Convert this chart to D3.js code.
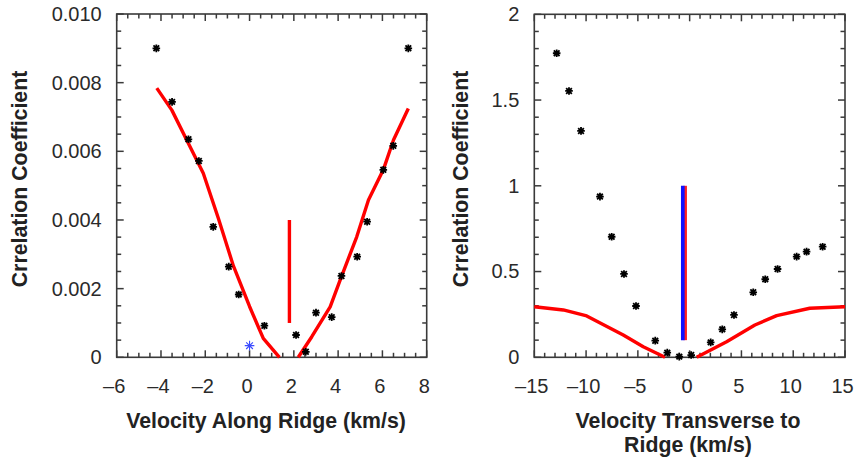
<!DOCTYPE html>
<html><head><meta charset="utf-8">
<script src="https://cdn.jsdelivr.net/npm/d3@7"></script>
<style>
body{margin:0;background:#fff}
text{font-family:"Liberation Sans",Arial,Helvetica,sans-serif}
</style>
</head><body>
<svg id="c" width="859" height="459" style="background:#fff"></svg>
<script>
// ---------- Left panel data ----------
const leftObsX = [-4.21,-3.50,-2.76,-2.29,-1.64,-0.94,-0.49,0.67,2.10,2.54,3.00,3.71,4.15,4.86,5.31,6.04,6.49,7.17];
const leftObsY = [0.0090,0.00744,0.00635,0.00572,0.0038,0.00264,0.00183,0.00092,0.00065,0.00016,0.0013,0.00117,0.00237,0.00293,0.00395,0.00546,0.00616,0.0090];
const leftFitNegX = [-4.19,-3.51,-2.76,-2.09,-1.41,-0.73,0.0,0.62,1.35];
const leftFitNegY = [0.00784,0.0072,0.00623,0.00536,0.00405,0.00266,0.00148,0.00055,0];
const leftFitPosX = [2.2,2.81,3.64,4.09,4.84,5.37,6.04,6.5,7.17];
const leftFitPosY = [0,0.0006,0.00147,0.00225,0.00351,0.00458,0.00546,0.00633,0.00725];
const leftMarkerX = [1.8, 1.8];
const leftMarkerY = [0.001, 0.004];
const leftBlueStarX = [0.0];
const leftBlueStarY = [0.00034];
const leftXTicks = [-6,-4,-2,0,2,4,6,8];
const leftYTicks = [0,0.002,0.004,0.006,0.008,0.010];
const leftYLabels = ["0","0.002","0.004","0.006","0.008","0.010"];

// ---------- Right panel data ----------
const rightObsX = [-12.84,-11.65,-10.49,-8.66,-7.53,-6.34,-5.18,-3.32,-2.16,-1.0,0.15,2.03,3.15,4.28,6.14,7.30,8.49,10.33,11.29,12.84];
const rightObsY = [1.773,1.553,1.320,0.937,0.703,0.486,0.299,0.097,0.027,0.004,0.013,0.087,0.163,0.247,0.379,0.455,0.515,0.587,0.616,0.645];
const rightFitNegX = [-15,-12.2,-9.94,-6.41,-4.48,-2.38];
const rightFitNegY = [0.295,0.276,0.241,0.130,0.062,0];
const rightFitPosX = [0.68,3.57,6.3,8.4,11.6,15];
const rightFitPosY = [0,0.091,0.188,0.243,0.286,0.295];
const rightRedBarX = [-0.43,-0.43];
const rightBlueBarX = [-0.66,-0.66];
const rightBarY = [0.1, 1.0];
const rightXTicks = [-15,-10,-5,0,5,10,15];
const rightYTicks = [0,0.5,1,1.5,2];
const rightYLabels = ["0","0.5","1","1.5","2"];

const svg = d3.select("#c");
const zip = (xs, ys) => xs.map((x,i)=>[x, ys[i]]);

function panel(o){
  const x = d3.scaleLinear().domain(o.xDom).range([o.x0, o.x1]);
  const y = d3.scaleLinear().domain(o.yDom).range([o.y1, o.y0]);
  const g = svg.append("g");
  const frameCol = "#3a3a3a";

  const minX = d3.range(o.xDom[0], o.xDom[1] + 1e-9, o.xMinor);
  const minY = d3.range(o.yDom[0], o.yDom[1] + 1e-12, o.yMinor);
  const isMajor = (v, arr) => arr.some(t => Math.abs(t - v) < 1e-9);

  // inward ticks on all four sides
  const tg = g.append("g").attr("stroke",frameCol).attr("stroke-width",1.5);
  minX.forEach(v=>{
    const L = isMajor(v,o.xTicks) ? 7 : 4.5, px = x(v);
    tg.append("line").attr("x1",px).attr("x2",px).attr("y1",o.y1).attr("y2",o.y1-L);
    tg.append("line").attr("x1",px).attr("x2",px).attr("y1",o.y0).attr("y2",o.y0+L);
  });
  minY.forEach(v=>{
    const L = isMajor(v,o.yTicks) ? 7 : 4.5, py = y(v);
    tg.append("line").attr("y1",py).attr("y2",py).attr("x1",o.x0).attr("x2",o.x0+L);
    tg.append("line").attr("y1",py).attr("y2",py).attr("x1",o.x1).attr("x2",o.x1-L);
  });

  // tick labels
  const bx = g.append("g").attr("transform",`translate(0,${o.y1})`)
    .call(d3.axisBottom(x).tickValues(o.xTicks).tickSize(0).tickPadding(22)
      .tickFormat(d=> d<0 ? "\u2013"+Math.abs(d) : String(d)));
  bx.select("path.domain").remove();
  bx.selectAll("text").attr("font-size",20).attr("fill","#2a2a2a").attr("dx",-3)
    .attr("dy","0.71em").attr("font-family","Liberation Sans, Arial, sans-serif");
  const ly = g.append("g").attr("transform",`translate(${o.x0},0)`)
    .call(d3.axisLeft(y).tickValues(o.yTicks).tickSize(0).tickPadding(15)
      .tickFormat((d,i)=>o.yLabels[i]));
  ly.select("path.domain").remove();
  ly.selectAll("text").attr("font-size",20).attr("fill","#2a2a2a")
    .attr("font-family","Liberation Sans, Arial, sans-serif");

  // frame
  g.append("rect").attr("x",o.x0).attr("y",o.y0).attr("width",o.x1-o.x0).attr("height",o.y1-o.y0)
    .attr("fill","none").attr("stroke",frameCol).attr("stroke-width",1.6);

  const line = d3.line().x(d=>x(d[0])).y(d=>y(d[1]));
  o.curves.forEach(c=>{
    g.append("path").attr("d",line(c)).attr("fill","none").attr("stroke","#ff0000")
      .attr("stroke-width",3.4).attr("stroke-linejoin","round");
  });
  o.bars.forEach(b=>{
    g.append("path").attr("d",line(b.pts)).attr("fill","none").attr("stroke",b.color)
      .attr("stroke-width",b.w);
  });
  const star = (cx,cy,r)=>`M${cx-r},${cy}L${cx+r},${cy}M${cx},${cy-r}L${cx},${cy+r}M${cx-r*0.75},${cy-r*0.75}L${cx+r*0.75},${cy+r*0.75}M${cx-r*0.75},${cy+r*0.75}L${cx+r*0.75},${cy-r*0.75}`;
  g.selectAll("path.pt").data(o.pts).enter().append("path").attr("class","pt")
    .attr("d",d=>star(x(d[0]),y(d[1]),3.8)).attr("stroke","#000").attr("stroke-width",1.8).attr("fill","none");
  if(o.blue){
    g.selectAll("path.bs").data(o.blue).enter().append("path").attr("class","bs")
      .attr("d",d=>{const cx=x(d[0]),cy=y(d[1]),r=4.8;
        return `M${cx-r},${cy}L${cx+r},${cy}M${cx},${cy-r}L${cx},${cy+r}M${cx-r*0.7},${cy-r*0.7}L${cx+r*0.7},${cy+r*0.7}M${cx-r*0.7},${cy+r*0.7}L${cx+r*0.7},${cy-r*0.7}`;})
      .attr("stroke","#3b4bff").attr("stroke-width",1.1).attr("fill","none");
  }

  g.append("text").attr("transform",`translate(${o.yTitleX},${o.yTitleY}) rotate(-90)`)
    .attr("text-anchor","middle").attr("font-weight","bold").attr("font-size",21.3)
    .attr("fill","#222").attr("dy","0.36em").text("Crrelation Coefficient");
  const t = g.append("text").attr("x",o.xTitleX).attr("y",o.xTitleY).attr("text-anchor","middle")
    .attr("font-weight","bold").attr("font-size",21.3).attr("fill","#222");
  o.xTitle.forEach((s,i)=> t.append("tspan").attr("x",o.xTitleX).attr("dy", i? 24 : 0).text(s));
}

panel({
  x0:116.7, x1:426.7, y0:14, y1:357.3,
  xDom:[-6,8], yDom:[0,0.010], xMinor:0.5, yMinor:0.0005,
  xTicks:leftXTicks, yTicks:leftYTicks, yLabels:leftYLabels,
  curves:[zip(leftFitNegX,leftFitNegY), zip(leftFitPosX,leftFitPosY)],
  bars:[{pts:zip(leftMarkerX,leftMarkerY), color:"#ff0000", w:3.4}],
  pts:zip(leftObsX,leftObsY), blue:zip(leftBlueStarX,leftBlueStarY),
  yTitleX:19.5, yTitleY:179, xTitleX:266, xTitleY:428,
  xTitle:["Velocity Along Ridge (km/s)"]
});
panel({
  x0:534.3, x1:845, y0:14.3, y1:357.3,
  xDom:[-15,15], yDom:[0,2], xMinor:1, yMinor:0.1,
  xTicks:rightXTicks, yTicks:rightYTicks, yLabels:rightYLabels,
  curves:[zip(rightFitNegX,rightFitNegY), zip(rightFitPosX,rightFitPosY)],
  bars:[{pts:zip(rightRedBarX,rightBarY), color:"#ff2020", w:3.5},
        {pts:zip(rightBlueBarX,rightBarY), color:"#1010ff", w:3.7}],
  pts:zip(rightObsX,rightObsY),
  yTitleX:460.5, yTitleY:179, xTitleX:688, xTitleY:428,
  xTitle:["Velocity Transverse to","Ridge (km/s)"]
});
</script>
</body></html>
